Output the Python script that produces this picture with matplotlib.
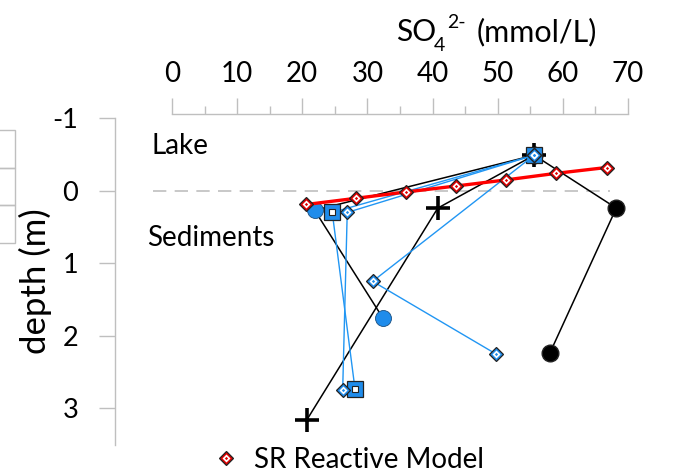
import numpy as np
import matplotlib
matplotlib.use("Agg")
import matplotlib.pyplot as plt
from matplotlib.patches import Rectangle
from matplotlib.legend_handler import HandlerTuple

plt.rcParams["font.family"] = ["Lato", "DejaVu Sans"]

# lake water value shared by all measured profiles
lake_so4 = 55.6
lake_depth = -0.49

# measured profiles (first point = lake)
blk_circ_x = [lake_so4, 68.2, 58.0]
blk_circ_d = [lake_depth, 0.24, 2.24]
cross_x = [lake_so4, 40.8, 20.7]
cross_d = [lake_depth, 0.24, 3.16]
blu_circ_x = [lake_so4, 21.9, 32.4]
blu_circ_d = [lake_depth, 0.27, 1.76]
blu_sq_x = [lake_so4, 24.6, 28.1]
blu_sq_d = [lake_depth, 0.30, 2.74]
blu_dia_x = [lake_so4, 26.9, 26.2]
blu_dia_d = [lake_depth, 0.30, 2.75]
blu_dia2_x = [lake_so4, 30.8, 49.7]
blu_dia2_d = [lake_depth, 1.25, 2.25]

# SR reactive model
sr_x = [20.6, 28.2, 35.9, 43.6, 51.2, 59.0, 66.7]
sr_d = [0.19, 0.105, 0.018, -0.065, -0.148, -0.24, -0.32]

x_ticks = [0, 10, 20, 30, 40, 50, 60, 70]
y_ticks = [-1, 0, 1, 2, 3]

W, H = 689, 473
BLUE = "#1f8ceb"
BLUE_LINE = "#2196f3"
RED = "#e00000"
GRAY = "#bfbfbf"

fig = plt.figure(figsize=(W / 100, H / 100), dpi=100)
ax_l, ax_r, ax_t, ax_b = 172, 628, 118.2, 444.5
ax = fig.add_axes([ax_l / W, 1 - ax_b / H, (ax_r - ax_l) / W, (ax_b - ax_t) / H])

ax.set_xlim(0, 70)
ax.set_ylim(3.5, -1)

# zero line (lake / sediment boundary)
ax.plot([-2.9, 67.2], [0, 0], color=GRAY, lw=1.2, dashes=(8, 5), clip_on=False, zorder=1)


def diamond(x, d, face, ms=7.6, line=None, lw=1.0, z=3):
    if line is not None:
        ax.plot(x, d, color=line, lw=lw, zorder=z - 1)
    h1, = ax.plot(x, d, ls="none", marker="D", ms=ms, mfc=face, mec="#222222", mew=0.9, zorder=z)
    h2, = ax.plot(x, d, ls="none", marker="D", ms=ms * 0.5, mfc="white", mec="none", zorder=z + 0.1)
    h3, = ax.plot(x, d, ls="none", marker="D", ms=ms * 0.22, mfc=face, mec="none", zorder=z + 0.2)
    return (h1, h2, h3)


ax.plot(blk_circ_x, blk_circ_d, color="black", lw=1.1, marker="o", ms=12,
        mfc="black", mec="#222222", zorder=3)
ax.plot(blu_circ_x, blu_circ_d, color="black", lw=1.1, marker="o", ms=11.5,
        mfc=BLUE, mec="#1a4f80", mew=0.6, zorder=3)
ax.plot(cross_x, cross_d, color="black", lw=1.1, marker="+", ms=17, mew=2.6,
        mec="black", zorder=3)
ax.plot(blu_sq_x, blu_sq_d, color=BLUE_LINE, lw=1.0, zorder=3)
ax.plot(blu_sq_x, blu_sq_d, ls="none", marker="s", ms=11, mfc=BLUE, mec="#222222",
        mew=0.9, zorder=4)
ax.plot(blu_sq_x, blu_sq_d, ls="none", marker="s", ms=5, mfc="white", mec="#222222",
        mew=0.8, zorder=4.1)
diamond(blu_dia_x, blu_dia_d, BLUE, line=BLUE_LINE, z=5)
diamond(blu_dia2_x, blu_dia2_d, BLUE, line=BLUE_LINE, z=5)

ax.plot(sr_x, sr_d, color="#ff0000", lw=2.4, zorder=6)
sr_handle = diamond(sr_x, sr_d, RED, z=7)

# axes styling: x axis on top, both axes pushed out
for s in ["right", "bottom"]:
    ax.spines[s].set_visible(False)
for s in ["top", "left"]:
    ax.spines[s].set_color(GRAY)
    ax.spines[s].set_linewidth(1.0)
ax.spines["left"].set_position(("outward", 41))
ax.spines["top"].set_position(("outward", 2.7))
ax.xaxis.tick_top()
ax.set_xticks(x_ticks)
ax.set_xticks(np.arange(5, 70, 10), minor=True)
ax.set_yticks(y_ticks)
ax.tick_params(axis="x", which="major", direction="out", length=11.5, width=1.0,
               color=GRAY, pad=8.5, labelsize=20)
ax.tick_params(axis="x", which="minor", direction="out", length=5.8, width=1.0, color=GRAY)
ax.tick_params(axis="y", which="major", direction="out", length=11.5, width=1.0,
               color=GRAY, pad=15, labelsize=19.5)
ax.set_yticklabels([str(v) for v in y_ticks])

ax.set_ylabel("depth (m)", fontsize=25, rotation=90, va="center")
ax.yaxis.set_label_coords((35 - ax_l) / (ax_r - ax_l), (ax_b - 281) / (ax_b - ax_t))

ax.text(-3.2, -0.62, "Lake", fontsize=20, va="center", ha="left", clip_on=False)
ax.text(-3.8, 0.65, "Sediments", fontsize=20, va="center", ha="left", clip_on=False)

# x axis title with sub/superscript
def ftext(x, y, s, size):
    fig.text(x / W, 1 - y / H, s, fontsize=size, va="baseline", ha="left")

ftext(396, 41, "SO", 21.5)
ftext(434, 51, "4", 14)
ftext(447, 28, "2-", 14)
ftext(477, 41, "(mmol/L)", 22)

# legend (only visible entry)
fig.legend(handles=[sr_handle], labels=["SR Reactive Model"],
           handler_map={tuple: HandlerTuple(ndivide=1)},
           loc="center left", bbox_to_anchor=(212 / W, 1 - 460 / H),
           frameon=False, handlelength=1.0, handletextpad=0.5,
           borderpad=0, borderaxespad=0, fontsize=20)

# partial box of a neighbouring object at the left edge
for y0, y1 in [(130, 168), (168, 205), (205, 243)]:
    fig.add_artist(Rectangle((-2 / W, 1 - y1 / H), 17 / W, (y1 - y0) / H,
                             transform=fig.transFigure, fill=False,
                             edgecolor=GRAY, lw=1.0))

fig.savefig("out.png", dpi=100)
